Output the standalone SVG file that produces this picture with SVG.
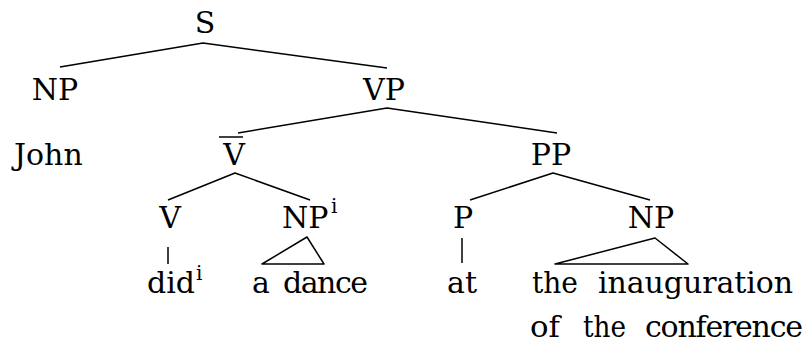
<svg xmlns="http://www.w3.org/2000/svg" width="807" height="347" viewBox="0 0 807 347">
<style>
text{font-family:"DejaVu Serif","Liberation Serif",serif;font-size:30px;fill:#000}
.c{text-anchor:middle}
.sup{font-size:20px}
.e{fill:none;stroke:#000;stroke-width:1.5;stroke-linejoin:round}
</style>
<rect width="807" height="347" fill="#fff"/>
<g id="connectors">
<polyline class="e" points="60,67 203,43 387,68"/>
<polyline class="e" points="238,133 387,108 557,133"/>
<polyline class="e" points="168,200 235,173 310,200"/>
<polyline class="e" points="470,200 553,173 650,200"/>
<line class="e" x1="168" y1="247" x2="168" y2="264"/>
<line class="e" x1="462" y1="238" x2="462" y2="263"/>
<polygon class="e" points="262,264 307,237 324,264"/>
<polygon class="e" points="555,264 655,238 688,264"/>
</g>
<g id="S"><text class="c" x="205" y="33">S</text></g>
<g id="NP1"><text class="c" x="55" y="100">NP</text></g>
<g id="VP"><text class="c" x="384" y="100">VP</text></g>
<g id="John"><text x="14" y="165">John</text></g>
<g id="Vbar"><text class="c" x="234" y="165">V</text><line class="e" x1="219" y1="137" x2="243" y2="137"/></g>
<g id="PP"><text class="c" x="551" y="165">PP</text></g>
<g id="V"><text class="c" x="170" y="228">V</text></g>
<g id="NPi"><text x="282" y="228">NP</text><text class="sup" x="331" y="213">i</text></g>
<g id="P"><text class="c" x="463" y="228">P</text></g>
<g id="NP2"><text class="c" x="651" y="228">NP</text></g>
<g id="did"><text x="147" y="293">did</text><text class="sup" x="196" y="280">i</text></g>
<g id="adance"><text y="293"><tspan x="252">a</tspan> <tspan x="283" textLength="85" lengthAdjust="spacing">dance</tspan></text></g>
<g id="at"><text x="447" y="293">at</text></g>
<g id="inaug"><text y="293"><tspan x="532" textLength="46" lengthAdjust="spacingAndGlyphs">the</tspan> <tspan x="598" textLength="195" lengthAdjust="spacing">inauguration</tspan></text><text y="337"><tspan x="530" textLength="30" lengthAdjust="spacingAndGlyphs">of</tspan> <tspan x="583" textLength="43" lengthAdjust="spacingAndGlyphs">the</tspan> <tspan x="645" textLength="158" lengthAdjust="spacing">conference</tspan></text></g>
</svg>
